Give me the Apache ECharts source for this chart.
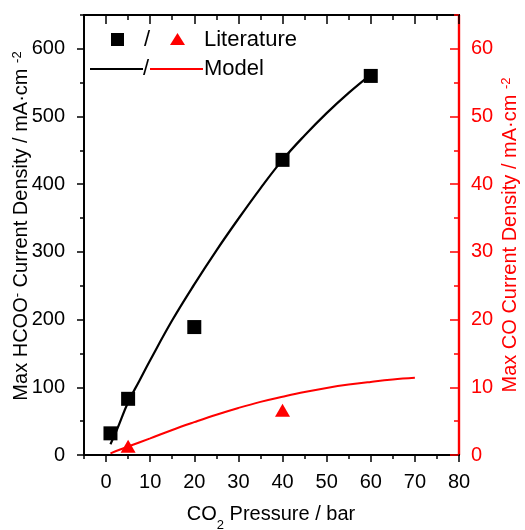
<!DOCTYPE html>
<html>
<head>
<meta charset="utf-8">
<script src="https://cdn.jsdelivr.net/npm/echarts@6/dist/echarts.min.js"></script>
<style>
  html, body { margin: 0; padding: 0; background: #fff; }
  #chart { width: 525px; height: 530px; }
</style>
</head>
<body>
<div id="chart"></div>
<script>
// CO2 pressure (bar) of the literature points
const litPressureHCOO = [1, 5, 20, 40, 60];
const litHCOO = [32, 83, 189, 436, 560];          // mA/cm2, left axis
const litPressureCO = [5, 40];
const litCO = [1.3, 6.6];                          // mA/cm2, right axis

// Model curves
const modelPressureHCOO = [1, 2.5, 5, 7.5, 10, 15, 20, 25, 30, 35, 40, 45, 50, 55, 60];
const modelHCOO = [16, 38, 78, 109, 140, 199, 252, 302, 349, 394, 436, 472, 505, 535, 562];
const modelPressureCO = [1, 5, 10, 15, 20, 25, 30, 35, 40, 45, 50, 55, 60, 65, 70];
const modelCO = [0.25, 1.25, 2.45, 3.7, 4.85, 5.95, 6.95, 7.85, 8.6, 9.3, 9.9, 10.4, 10.8, 11.15, 11.4];

// Axis ticks
const xMajor = [0, 10, 20, 30, 40, 50, 60, 70, 80];
const xMinor = [-5, 5, 15, 25, 35, 45, 55, 65, 75];
const leftMajor = [0, 100, 200, 300, 400, 500, 600];
const leftMinor = [50, 150, 250, 350, 450, 550, 650];
const rightMajor = [0, 10, 20, 30, 40, 50, 60];
const rightMinor = [5, 15, 25, 35, 45, 55, 65];

const FONT = 'Liberation Sans, Arial, Helvetica, sans-serif';
const RED = '#ff0000';
const BLACK = '#000000';

const zip = (xs, ys) => xs.map((x, i) => [x, ys[i]]);

function xAxisDef(position, ticks, len, inside, labels) {
  return {
    type: 'value', position: position, min: -5, max: 80,
    axisLine: { show: true, onZero: false, lineStyle: { color: BLACK, width: 1.8 } },
    axisTick: { show: true, inside: inside, length: len, customValues: ticks,
                lineStyle: { color: BLACK, width: 1.5 } },
    axisLabel: labels ? { show: true, customValues: ticks, margin: 17,
                          fontSize: 20, fontFamily: FONT, color: BLACK }
                      : { show: false },
    splitLine: { show: false }
  };
}

function yAxisDef(position, max, ticks, len, inside, color, labels, margin) {
  return {
    type: 'value', position: position, min: 0, max: max,
    axisLine: { show: true, onZero: false, lineStyle: { color: color, width: position === 'right' ? 2.2 : 1.8 } },
    axisTick: { show: true, inside: inside, length: len, customValues: ticks,
                lineStyle: { color: color, width: 1.5 } },
    axisLabel: labels ? { show: true, customValues: ticks, margin: margin,
                          fontSize: 20, fontFamily: FONT, color: color }
                      : { show: false },
    splitLine: { show: false }
  };
}

const chart = echarts.init(document.getElementById('chart'), null, { renderer: 'canvas' });

const option = {
  backgroundColor: '#ffffff',
  animation: false,
  grid: { left: 84, right: 66, top: 15, bottom: 75, containLabel: false },
  xAxis: [
    xAxisDef('bottom', xMajor, 7, false, true),
    xAxisDef('bottom', xMinor, 4, false, false),
    xAxisDef('top', xMajor, 9, true, false),
    xAxisDef('top', xMinor, 5, true, false)
  ],
  yAxis: [
    yAxisDef('left', 650, leftMajor, 7, false, BLACK, true, 19),
    yAxisDef('right', 65, rightMajor, 9, true, RED, true, 12),
    yAxisDef('left', 650, leftMinor, 4, false, BLACK, false, 0),
    yAxisDef('right', 65, rightMinor, 5, true, RED, false, 0)
  ],
  series: [
    {
      name: 'Model HCOO', type: 'line', xAxisIndex: 0, yAxisIndex: 0,
      data: zip(modelPressureHCOO, modelHCOO), smooth: 0.4, showSymbol: false,
      lineStyle: { color: BLACK, width: 2.2 }, z: 2
    },
    {
      name: 'Model CO', type: 'line', xAxisIndex: 0, yAxisIndex: 1,
      data: zip(modelPressureCO, modelCO), smooth: 0.4, showSymbol: false,
      lineStyle: { color: RED, width: 2 }, z: 2
    },
    {
      name: 'Literature HCOO', type: 'scatter', xAxisIndex: 0, yAxisIndex: 0,
      data: zip(litPressureHCOO, litHCOO), symbol: 'rect', symbolSize: 14,
      itemStyle: { color: BLACK, opacity: 1 }, z: 3
    },
    {
      name: 'Literature CO', type: 'scatter', xAxisIndex: 0, yAxisIndex: 1,
      data: zip(litPressureCO, litCO), symbol: 'triangle', symbolSize: [15, 13],
      itemStyle: { color: RED, opacity: 1 }, z: 3
    }
  ],
  graphic: [
    // legend, first row: symbols
    { type: 'rect', shape: { x: 111, y: 33, width: 13, height: 13 }, style: { fill: BLACK } },
    { type: 'text', x: 147, y: 40, style: { text: '/', font: '22px ' + FONT, fill: BLACK, align: 'center', verticalAlign: 'middle' } },
    { type: 'polygon', shape: { points: [[177.5, 33], [185, 45], [170, 45]] }, style: { fill: RED } },
    { type: 'text', x: 204, y: 40, style: { text: 'Literature', font: '22px ' + FONT, fill: BLACK, align: 'left', verticalAlign: 'middle' } },
    // legend, second row: lines
    { type: 'line', shape: { x1: 90, y1: 69, x2: 143, y2: 69 }, style: { stroke: BLACK, lineWidth: 2 } },
    { type: 'text', x: 146, y: 69, style: { text: '/', font: '22px ' + FONT, fill: BLACK, align: 'center', verticalAlign: 'middle' } },
    { type: 'line', shape: { x1: 150, y1: 69, x2: 203, y2: 69 }, style: { stroke: RED, lineWidth: 2 } },
    { type: 'text', x: 204, y: 69, style: { text: 'Model', font: '22px ' + FONT, fill: BLACK, align: 'left', verticalAlign: 'middle' } },
    // x axis title
    {
      type: 'text', x: 271, y: 514,
      style: {
        text: '{m|CO}{s|2}{m| Pressure / bar}',
        align: 'center', verticalAlign: 'middle', fill: BLACK,
        rich: {
          m: { fontSize: 20, fontFamily: FONT, fill: BLACK, lineHeight: 20, verticalAlign: 'top' },
          s: { fontSize: 13, fontFamily: FONT, fill: BLACK, lineHeight: 13, verticalAlign: 'top', padding: [15, 0, 0, 0] }
        }
      }
    },
    // left axis title
    {
      type: 'text', x: 21, y: 226, rotation: Math.PI / 2,
      style: {
        text: '{m|Max HCOO}{s|-}{m| Current Density / mA·cm}{g| }{s|-2}',
        align: 'center', verticalAlign: 'middle', fill: BLACK,
        rich: {
          m: { fontSize: 20, fontFamily: FONT, fill: BLACK, lineHeight: 20, verticalAlign: 'bottom' },
          g: { fontSize: 20, fontFamily: FONT, fill: BLACK, lineHeight: 20, verticalAlign: 'bottom' },
          s: { fontSize: 13, fontFamily: FONT, fill: BLACK, lineHeight: 13, verticalAlign: 'top', padding: [0, 0, 12, 0] }
        }
      }
    },
    // right axis title
    {
      type: 'text', x: 510, y: 235, rotation: Math.PI / 2,
      style: {
        text: '{m|Max CO Current Density / mA·cm}{g| }{s|-2}',
        align: 'center', verticalAlign: 'middle', fill: RED,
        rich: {
          m: { fontSize: 20, fontFamily: FONT, fill: RED, lineHeight: 20, verticalAlign: 'bottom' },
          g: { fontSize: 20, fontFamily: FONT, fill: RED, lineHeight: 20, verticalAlign: 'bottom' },
          s: { fontSize: 13, fontFamily: FONT, fill: RED, lineHeight: 13, verticalAlign: 'top', padding: [0, 0, 12, 0] }
        }
      }
    }
  ]
};

chart.setOption(option);
</script>
</body>
</html>
